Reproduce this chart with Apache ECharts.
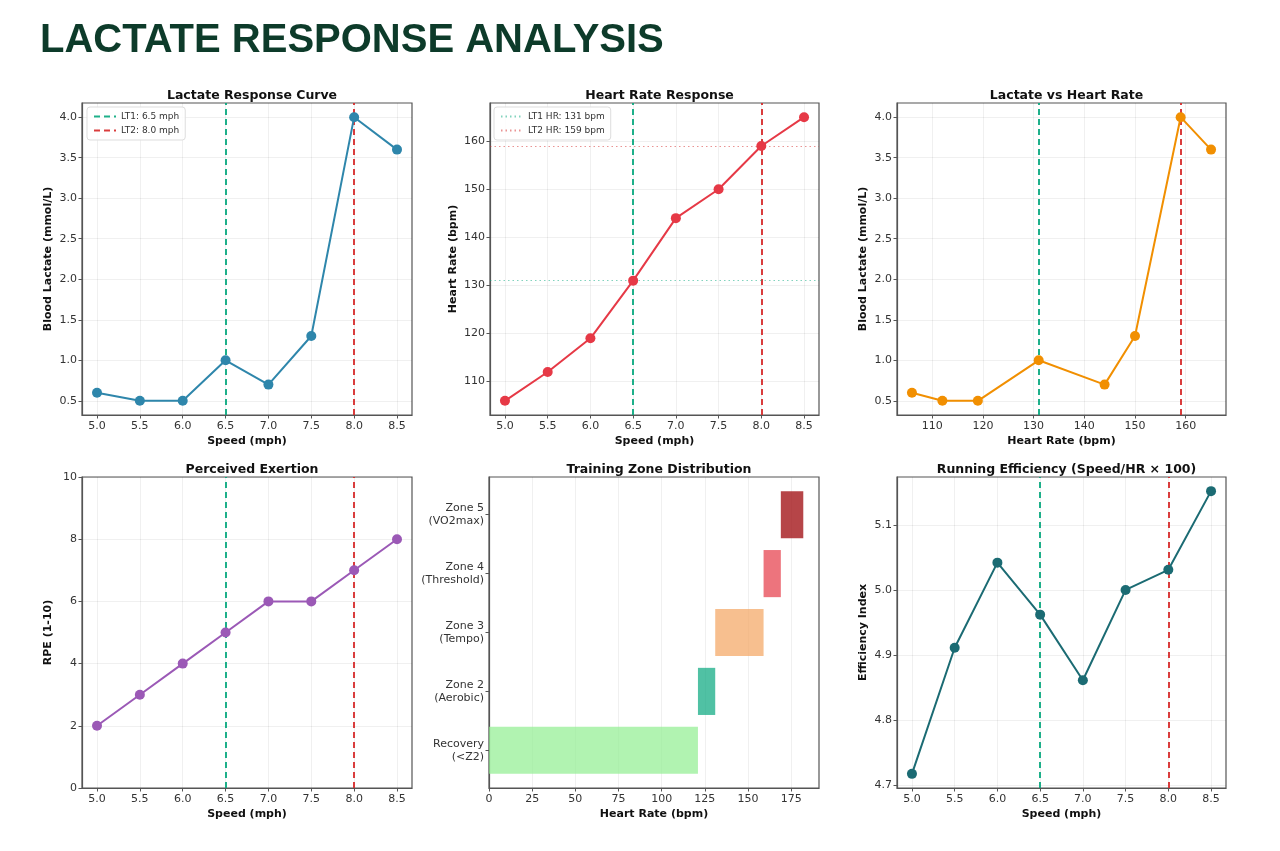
<!DOCTYPE html>
<html>
<head>
<meta charset="utf-8">
<title>Lactate Response Analysis</title>
<script src="https://cdn.jsdelivr.net/npm/echarts@6/dist/echarts.min.js"></script>
<style>
  html, body { margin: 0; padding: 0; background: #fff; }
  #chart { width: 1280px; height: 851px; }
</style>
</head>
<body>
<div id="chart"></div>
<script>
// test data (step test)
const speed = [5.0, 5.5, 6.0, 6.5, 7.0, 7.5, 8.0, 8.5];
const lactate = [0.6, 0.5, 0.5, 1.0, 0.7, 1.3, 4.0, 3.6];
const heartRate = [106, 112, 119, 131, 144, 150, 159, 165];
const rpe = [2, 3, 4, 5, 6, 6, 7, 8];
const efficiency = [4.717, 4.911, 5.042, 4.962, 4.861, 5.000, 5.031, 5.152];

// thresholds
const LT1_SPEED = 6.5;
const LT2_SPEED = 8.0;
const LT1_HR = 131;
const LT2_HR = 159;

// training zones
const zoneNames = ['Recovery\n(<Z2)', 'Zone 2\n(Aerobic)', 'Zone 3\n(Tempo)', 'Zone 4\n(Threshold)', 'Zone 5\n(VO2max)'];
const zoneStart = [0, 121, 131, 159, 169];
const zoneEnd = [121, 131, 159, 169, 182];

// tick labels
const speedTicks = [5.0, 5.5, 6.0, 6.5, 7.0, 7.5, 8.0, 8.5];
const lactateTicks = [0.5, 1.0, 1.5, 2.0, 2.5, 3.0, 3.5, 4.0];
const hrTicks = [110, 120, 130, 140, 150, 160];
const rpeTicks = [0, 2, 4, 6, 8, 10];
const zoneHrTicks = [0, 25, 50, 75, 100, 125, 150, 175];
const effTicks = [4.7, 4.8, 4.9, 5.0, 5.1];

const zoneColors = ['rgba(144,238,144,0.7)', 'rgba(6,167,125,0.7)', 'rgba(244,164,96,0.7)', 'rgba(230,57,70,0.7)', 'rgba(164,22,26,0.8)'];
const LT1_COLOR = '#06A77D';
const LT2_COLOR = '#D62828';
const FONT = 'DejaVu Sans';

const chart = echarts.init(document.getElementById('chart'));

// matplotlib-like padded range
function padded(vals) {
  const mn = Math.min(...vals), mx = Math.max(...vals);
  const m = (mx - mn) * 0.05;
  return [mn - m, mx + m];
}

const grids = [
  { left: 82, top: 103, width: 330, height: 312 },
  { left: 490, top: 103, width: 329, height: 312 },
  { left: 897, top: 103, width: 329, height: 312 },
  { left: 82, top: 477, width: 330, height: 311 },
  { left: 489, top: 477, width: 330, height: 311 },
  { left: 897, top: 477, width: 329, height: 311 }
].map(g => Object.assign(g, { show: true, borderColor: '#555', borderWidth: 1.2, backgroundColor: '#fff' }));

function valueAxis(gridIndex, range, ticks, decimals, name, isY, opts) {
  opts = opts || {};
  return {
    type: 'value',
    gridIndex: gridIndex,
    min: range[0],
    max: range[1],
    name: name,
    nameLocation: 'middle',
    nameGap: isY ? (opts.nameGap || 28) : 21,
    nameTextStyle: { fontFamily: FONT, fontWeight: 'bold', fontSize: 11, color: '#111' },
    axisLine: { show: true, onZero: false, lineStyle: { color: '#555', width: 1.2 } },
    axisTick: { show: true, length: 3.5, customValues: ticks, lineStyle: { color: '#555' } },
    axisLabel: {
      customValues: ticks,
      fontFamily: FONT, fontSize: 11, color: '#333', margin: 5, lineHeight: 13,
      formatter: v => (opts.labels ? opts.labels[Math.round(v)] : v.toFixed(decimals))
    },
    splitLine: { show: opts.split !== false, lineStyle: { color: 'rgba(0,0,0,0.08)', width: 0.8 } }
  };
}

const speedRange = padded(speed);
const lactateRange = padded(lactate);
const hrRange = padded(heartRate);
const effRange = padded(efficiency);

const xAxis = [
  valueAxis(0, speedRange, speedTicks, 1, 'Speed (mph)', false),
  valueAxis(1, speedRange, speedTicks, 1, 'Speed (mph)', false),
  valueAxis(2, hrRange, hrTicks, 0, 'Heart Rate (bpm)', false),
  valueAxis(3, speedRange, speedTicks, 1, 'Speed (mph)', false),
  valueAxis(4, [0, Math.max(...zoneEnd) * 1.05], zoneHrTicks, 0, 'Heart Rate (bpm)', false),
  valueAxis(5, speedRange, speedTicks, 1, 'Speed (mph)', false)
];

const yAxis = [
  valueAxis(0, lactateRange, lactateTicks, 1, 'Blood Lactate (mmol/L)', true),
  valueAxis(1, hrRange, hrTicks, 0, 'Heart Rate (bpm)', true, { nameGap: 31 }),
  valueAxis(2, lactateRange, lactateTicks, 1, 'Blood Lactate (mmol/L)', true),
  valueAxis(3, [0, 10], rpeTicks, 0, 'RPE (1-10)', true),
  valueAxis(4, [-0.64, zoneNames.length - 1 + 0.64], [0, 1, 2, 3, 4], 0, '', true,
    { labels: zoneNames, split: false }),
  valueAxis(5, effRange, effTicks, 1, 'Efficiency Index', true)
];

function dataLine(idx, xs, ys, color) {
  return {
    type: 'line',
    xAxisIndex: idx, yAxisIndex: idx,
    data: xs.map((x, i) => [x, ys[i]]),
    symbol: 'circle', symbolSize: 10,
    lineStyle: { color: color, width: 2 },
    itemStyle: { color: color },
    z: 5, silent: true
  };
}

// threshold line drawn via markLine on an empty series (so it can carry a legend entry)
function thresholdLine(idx, name, axisKey, value, color, dash, opacity) {
  const mark = {};
  mark[axisKey] = value;
  const style = {
    color: color,
    width: dash === 'dotted' ? 1.2 : 2,
    type: dash === 'dotted' ? [1.5, 3] : [6, 4],
    opacity: opacity
  };
  return {
    type: 'line',
    name: name,
    xAxisIndex: idx, yAxisIndex: idx,
    data: [],
    symbol: 'none',
    lineStyle: style,
    itemStyle: { color: color },
    markLine: {
      silent: true, symbol: 'none', animation: false,
      label: { show: false },
      lineStyle: style,
      data: [mark]
    },
    z: 4
  };
}

const series = [
  // 1. Lactate response curve
  dataLine(0, speed, lactate, '#2E86AB'),
  thresholdLine(0, 'LT1: 6.5 mph', 'xAxis', LT1_SPEED, LT1_COLOR, 'dashed', 0.9),
  thresholdLine(0, 'LT2: 8.0 mph', 'xAxis', LT2_SPEED, LT2_COLOR, 'dashed', 0.9),
  // 2. Heart rate response
  dataLine(1, speed, heartRate, '#E63946'),
  thresholdLine(1, '', 'xAxis', LT1_SPEED, LT1_COLOR, 'dashed', 0.9),
  thresholdLine(1, '', 'xAxis', LT2_SPEED, LT2_COLOR, 'dashed', 0.9),
  thresholdLine(1, 'LT1 HR: 131 bpm', 'yAxis', LT1_HR, LT1_COLOR, 'dotted', 0.5),
  thresholdLine(1, 'LT2 HR: 159 bpm', 'yAxis', LT2_HR, LT2_COLOR, 'dotted', 0.5),
  // 3. Lactate vs heart rate
  dataLine(2, heartRate, lactate, '#F18F01'),
  thresholdLine(2, '', 'xAxis', LT1_HR, LT1_COLOR, 'dashed', 0.9),
  thresholdLine(2, '', 'xAxis', LT2_HR, LT2_COLOR, 'dashed', 0.9),
  // 4. Perceived exertion
  dataLine(3, speed, rpe, '#9B59B6'),
  thresholdLine(3, '', 'xAxis', LT1_SPEED, LT1_COLOR, 'dashed', 0.9),
  thresholdLine(3, '', 'xAxis', LT2_SPEED, LT2_COLOR, 'dashed', 0.9),
  // 5. Training zones
  {
    type: 'custom',
    xAxisIndex: 4, yAxisIndex: 4,
    data: zoneStart.map((s, i) => [i, s, zoneEnd[i]]),
    encode: { x: [1, 2], y: 0 },
    renderItem: (params, api) => {
      const i = api.value(0);
      const p0 = api.coord([api.value(1), i]);
      const p1 = api.coord([api.value(2), i]);
      const h = api.size([0, 0.8])[1];
      return {
        type: 'rect',
        shape: { x: p0[0], y: p0[1] - h / 2, width: p1[0] - p0[0], height: h },
        style: { fill: zoneColors[params.dataIndex] }
      };
    },
    silent: true
  },
  // 6. Running efficiency
  dataLine(5, speed, efficiency, '#1B6B73'),
  thresholdLine(5, '', 'xAxis', LT1_SPEED, LT1_COLOR, 'dashed', 0.9),
  thresholdLine(5, '', 'xAxis', LT2_SPEED, LT2_COLOR, 'dashed', 0.9)
];

const subTitles = ['Lactate Response Curve', 'Heart Rate Response', 'Lactate vs Heart Rate',
  'Perceived Exertion', 'Training Zone Distribution', 'Running Efficiency (Speed/HR \u00d7 100)'];

const title = [{
  text: 'LACTATE RESPONSE ANALYSIS',
  left: 35, top: 16,
  textStyle: { fontFamily: 'Liberation Sans', fontWeight: 'bold', fontSize: 40, color: '#0D3B2A' }
}].concat(subTitles.map((t, i) => ({
  text: t,
  left: grids[i].left + grids[i].width / 2,
  top: grids[i].top - 19,
  textAlign: 'center',
  textStyle: { fontFamily: FONT, fontWeight: 'bold', fontSize: 12.5, color: '#111' }
})));

const legendBase = {
  orient: 'vertical',
  itemWidth: 22, itemHeight: 8, itemGap: 5,
  padding: [5, 6],
  backgroundColor: 'rgba(255,255,255,0.85)',
  borderColor: '#ddd', borderWidth: 1, borderRadius: 3,
  textStyle: { fontFamily: FONT, fontSize: 9, color: '#333' },
  itemStyle: { opacity: 0 },
  selectedMode: false
};

const legend = [
  Object.assign({}, legendBase, { left: 87, top: 107, data: ['LT1: 6.5 mph', 'LT2: 8.0 mph'] }),
  Object.assign({}, legendBase, { left: 494, top: 107, data: ['LT1 HR: 131 bpm', 'LT2 HR: 159 bpm'] })
];

chart.setOption({
  animation: false,
  backgroundColor: '#fff',
  title: title,
  legend: legend,
  grid: grids,
  xAxis: xAxis,
  yAxis: yAxis,
  series: series
});
</script>
</body>
</html>
